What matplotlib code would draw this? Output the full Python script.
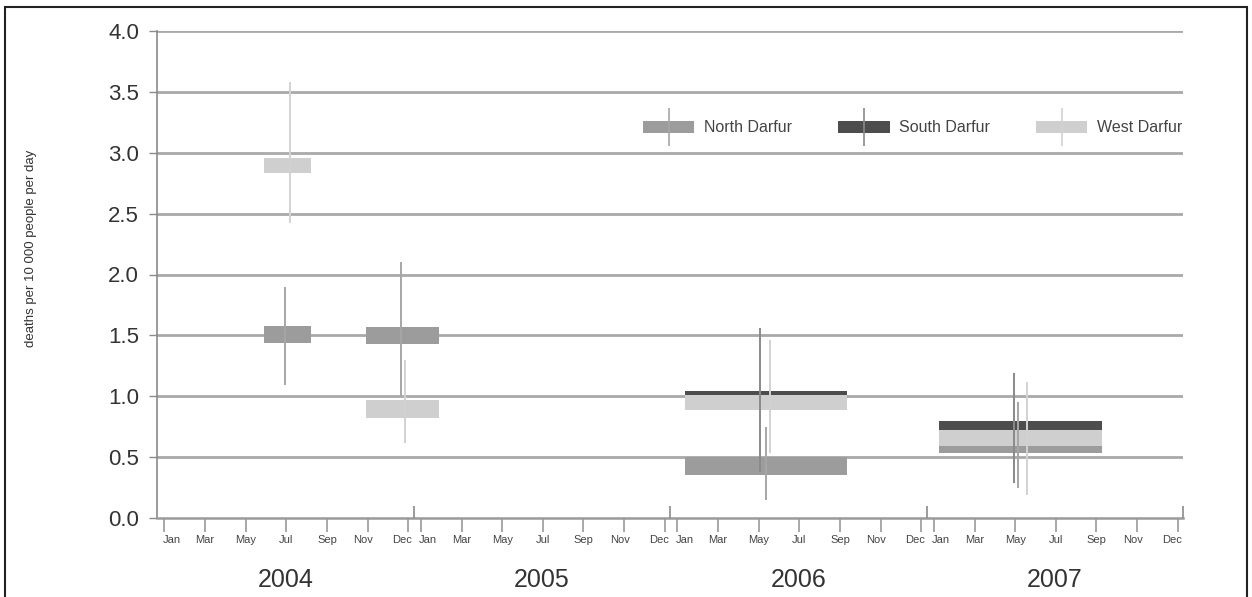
import matplotlib
matplotlib.use("Agg")
import matplotlib.pyplot as plt
import matplotlib.transforms as mtransforms
import numpy as np
from matplotlib.patches import Patch, Rectangle
from matplotlib.lines import Line2D
from matplotlib.legend_handler import HandlerTuple

plt.rcParams['font.family'] = ['Liberation Sans', 'DejaVu Sans']

# ---------------- data ----------------
years = [2004, 2005, 2006, 2007]
month_labels = ["Jan", "Mar", "May", "Jul", "Sep", "Nov", "Dec"]
yticks = [0.0, 0.5, 1.0, 1.5, 2.0, 2.5, 3.0, 3.5, 4.0]

# survey periods, in months since Jan 2004
survey_start = [5.0, 9.8, 24.7, 36.6]
survey_end = [7.2, 13.2, 32.3, 44.2]

regions = ["North Darfur", "South Darfur", "West Darfur"]

# per-region box (low/high) and confidence interval per survey (nan = no survey)
north_lo = [1.44, 1.43, 0.35, 0.53]
north_hi = [1.58, 1.57, 0.50, 0.66]
north_ci_x = [6.0, 11.4, 28.5, 40.3]
north_ci_lo = [1.09, 1.00, 0.15, 0.25]
north_ci_hi = [1.90, 2.10, 0.75, 0.95]

south_lo = [np.nan, np.nan, 0.92, 0.70]
south_hi = [np.nan, np.nan, 1.04, 0.80]
south_ci_x = [np.nan, np.nan, 28.2, 40.1]
south_ci_lo = [np.nan, np.nan, 0.38, 0.29]
south_ci_hi = [np.nan, np.nan, 1.56, 1.19]

west_lo = [2.83, 0.82, 0.89, 0.59]
west_hi = [2.96, 0.97, 1.01, 0.72]
west_ci_x = [6.2, 11.6, 28.7, 40.7]
west_ci_lo = [2.42, 0.62, 0.53, 0.19]
west_ci_hi = [3.58, 1.30, 1.46, 1.12]

# ---------------- styles ----------------
box_colors = {"North Darfur": "#9c9c9c", "South Darfur": "#4d4d4d", "West Darfur": "#cfcfcf"}
ci_colors = {"North Darfur": "#a6a6a6", "South Darfur": "#8a8a8a", "West Darfur": "#d2d2d2"}
grid_color = "#a9a9a9"
text_color = "#333333"

fig = plt.figure(figsize=(12.52, 5.97), dpi=100)
W, H = 1252, 597
ax = fig.add_axes([157 / W, 1 - 518 / H, (1183 - 157) / W, (518 - 31) / H])

ax.set_xlim(0, 12 * len(years))
ax.set_ylim(0, 4)

# grid lines
for yv in yticks[1:]:
    ax.axhline(yv, color=grid_color, lw=2.0, zorder=1)

series = [
    ("North Darfur", north_lo, north_hi, north_ci_x, north_ci_lo, north_ci_hi),
    ("South Darfur", south_lo, south_hi, south_ci_x, south_ci_lo, south_ci_hi),
    ("West Darfur", west_lo, west_hi, west_ci_x, west_ci_lo, west_ci_hi),
]

starts = np.array(survey_start)
widths = np.array(survey_end) - starts
for z, (name, lo, hi, cx, clo, chi) in enumerate(series):
    lo = np.array(lo); hi = np.array(hi)
    m = ~np.isnan(lo)
    ax.bar(starts[m], (hi - lo)[m], bottom=lo[m], width=widths[m], align='edge',
           color=box_colors[name], edgecolor='none', zorder=3 + z)
    cx = np.array(cx); clo = np.array(clo); chi = np.array(chi)
    m2 = ~np.isnan(cx)
    ax.vlines(cx[m2], clo[m2], chi[m2], color=ci_colors[name], lw=1.4, zorder=6)

# spines
for s in ["top", "right"]:
    ax.spines[s].set_visible(False)
ax.spines["left"].set_color("#8a8a8a")
ax.spines["bottom"].set_color("#9a9a9a")
ax.spines["bottom"].set_linewidth(1.8)
ax.spines["left"].set_linewidth(1.2)

# y axis
ax.set_yticks(yticks)
ax.set_yticklabels([f"{v:.1f}" for v in yticks], fontsize=16, color=text_color)
ax.tick_params(axis='y', length=6, width=1.0, color="#8a8a8a", pad=7)
ax.set_ylabel("deaths per 10 000 people per day", fontsize=9.5, color=text_color, labelpad=0)
ax.yaxis.set_label_coords(-(157 - 37) / (1183 - 157), (518 - 248) / (518 - 31))

# x axis: month ticks within each year
xt, xl = [], []
for i, _ in enumerate(years):
    for k, lab in enumerate(month_labels):
        xt.append(12 * i + 0.35 + k * 1.9)
        xl.append(lab)
ax.set_xticks(xt)
ax.set_xticklabels(xl, fontsize=8, color="#444444")
ax.tick_params(axis='x', length=10, width=1.2, color="#9a9a9a", pad=2)
label_shift = {"Jan": 7, "Nov": -4, "Dec": -6}
for lab in ax.get_xticklabels():
    dx = label_shift.get(lab.get_text(), 0)
    if dx:
        lab.set_transform(lab.get_transform() +
                          mtransforms.ScaledTranslation(dx / 100, 0, fig.dpi_scale_trans))

# year boundary ticks (upward)
bounds = [12 * (i + 1) for i in range(len(years))]
ax.vlines(bounds, 0, 0.1, color="#8a8a8a", lw=1.2, clip_on=False, zorder=5)

# year labels
for i, yr in enumerate(years):
    ax.text(12 * i + 6, -(580 - 518) / (518 - 31), str(yr), transform=ax.get_xaxis_transform(),
            ha='center', va='center', fontsize=18, color=text_color)

# legend
handles = []
for name in regions:
    handles.append((Patch(facecolor=box_colors[name], edgecolor='none'),
                    Line2D([], [], marker='|', linestyle='none', markersize=27,
                           markeredgewidth=1.2, color=ci_colors[name])))
leg = ax.legend(handles, regions, handler_map={tuple: HandlerTuple(ndivide=1, pad=0)},
                ncol=3, frameon=False, fontsize=11.5, handlelength=3.2, handleheight=0.7,
                columnspacing=2.9, handletextpad=0.6,
                loc='center left', bbox_to_anchor=((629 - 157) / (1183 - 157), (518 - 128) / (518 - 31)))
for t in leg.get_texts():
    t.set_color("#444444")

# outer frame
fig.patches.append(Rectangle((5 / W, -0.02), (1247 - 5) / W, 1.02 - 7 / H, transform=fig.transFigure,
                             fill=False, edgecolor="#222222", lw=1.5))

fig.savefig("out.png", dpi=100)
